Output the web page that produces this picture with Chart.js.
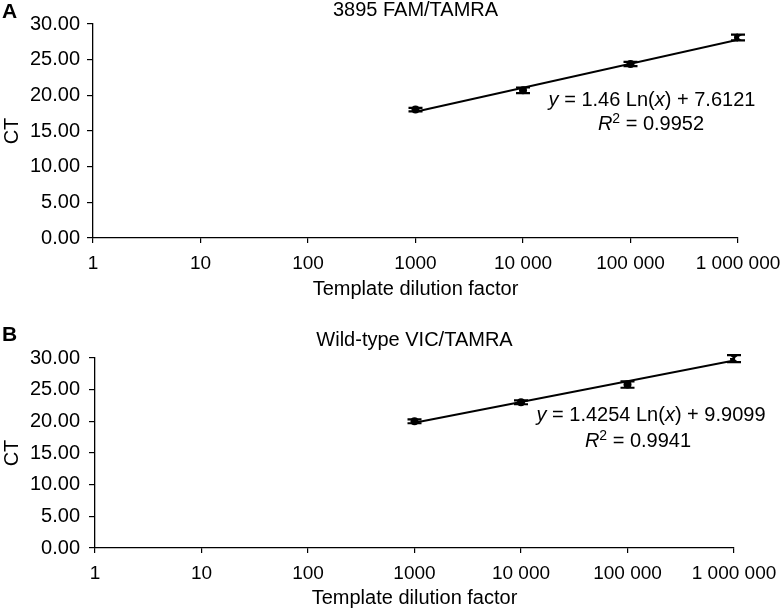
<!DOCTYPE html>
<html><head><meta charset="utf-8">
<script src="https://cdn.jsdelivr.net/npm/chart.js@4.4.1/dist/chart.umd.min.js"></script>
<style>
html,body{margin:0;padding:0;background:#fff;}
#wrap{position:relative;width:782px;height:609px;overflow:hidden;background:#fff;}
canvas{position:absolute;left:0;}
</style></head><body>
<div id="wrap">
<canvas id="cA" width="782" height="305" style="top:0px"></canvas>
<canvas id="cB" width="782" height="304" style="top:305px"></canvas>
</div>
<script>
// ---------- data ----------
const dilution = [1000, 10000, 100000, 1000000];
const ctA = [18.0, 20.7, 24.4, 28.1];
const errA = [0.25, 0.4, 0.3, 0.4];
const ctB = [20.0, 23.0, 25.8, 29.9];
const errB = [0.3, 0.3, 0.5, 0.55];
const trendX = [1000, 1000000];
const trendA = [17.70, 27.78];   // y = 1.46 Ln(x) + 7.6121 at the ends
const trendB = [19.76, 29.60];   // y = 1.4254 Ln(x) + 9.9099 at the ends
const xTickValues = [1, 10, 100, 1000, 10000, 100000, 1000000];
const xTickLabels = ['1', '10', '100', '1000', '10 000', '100 000', '1 000 000'];
const titleA = '3895 FAM/TAMRA';
const titleB = 'Wild-type VIC/TAMRA';
const eqA = ['1.46', '7.6121', '0.9952'];
const eqB = ['1.4254', '9.9099', '0.9941'];
const xTitle = 'Template dilution factor';
const yTitle = 'CT';

const FAMILY = '"Liberation Sans", Arial, Helvetica, sans-serif';
const INK = '#000';

function drawRich(ctx, parts, cx, cy, size) {
  const fontFor = s => (s === 'i' ? 'italic ' : '') + (s === 'sup' ? Math.round(size * 0.68) : size) + 'px ' + FAMILY;
  let total = 0;
  parts.forEach(([t, s]) => { ctx.font = fontFor(s); total += ctx.measureText(t).width; });
  let x = cx - total / 2;
  ctx.textAlign = 'left';
  ctx.textBaseline = 'alphabetic';
  const base = cy + size * 0.36;
  parts.forEach(([t, s]) => {
    ctx.font = fontFor(s);
    ctx.fillText(t, x, s === 'sup' ? base - size * 0.36 : base);
    x += ctx.measureText(t).width;
  });
}

const errorBars = {
  id: 'errorBars',
  afterDatasetsDraw(chart) {
    const {ctx, scales: {x, y}} = chart;
    const ds = chart.data.datasets[1];
    const errs = chart.options.plugins.errorBars.err;
    ctx.save();
    ctx.strokeStyle = INK;
    ctx.lineWidth = 2.2;
    ds.data.forEach((p, i) => {
      const px = x.getPixelForValue(p.x);
      const yT = y.getPixelForValue(p.y + errs[i]);
      const yB = y.getPixelForValue(p.y - errs[i]);
      ctx.beginPath();
      ctx.moveTo(px, yT); ctx.lineTo(px, yB);
      ctx.moveTo(px - 7, yT); ctx.lineTo(px + 7, yT);
      ctx.moveTo(px - 7, yB); ctx.lineTo(px + 7, yB);
      ctx.stroke();
      ctx.beginPath();
      ctx.moveTo(px - 4.5, yT); ctx.lineTo(px + 4.5, yT); ctx.lineTo(px, (yT + yB) / 2); ctx.closePath();
      ctx.moveTo(px - 4.5, yB); ctx.lineTo(px + 4.5, yB); ctx.lineTo(px, (yT + yB) / 2); ctx.closePath();
      ctx.fillStyle = INK;
      ctx.fill();
    });
    ctx.restore();
  }
};

const labels = {
  id: 'labels',
  afterDraw(chart) {
    const o = chart.options.plugins.labels;
    const {ctx, chartArea} = chart;
    ctx.save();
    ctx.fillStyle = INK;
    ctx.font = 'bold 21px ' + FAMILY;
    ctx.textAlign = 'left';
    ctx.textBaseline = 'middle';
    ctx.fillText(o.letter, 2, o.letterY);
    ctx.font = '20px ' + FAMILY;
    ctx.textAlign = 'center';
    ctx.fillText(o.title, (chartArea.left + chartArea.right) / 2, o.titleY);
    drawRich(ctx, [['y', 'i'], [' = ' + o.eq[0] + ' Ln(', ''], ['x', 'i'], [') + ' + o.eq[1], '']], o.eqX, o.eqY, 20);
    drawRich(ctx, [['R', 'i'], ['2', 'sup'], [' = ' + o.eq[2], '']], o.r2X, o.r2Y, 20);
    ctx.restore();
  }
};

function makeChart(id, L, values, errs, trend) {
  const H = document.getElementById(id).height;
  return new Chart(document.getElementById(id), {
    data: {
      datasets: [
        {
          type: 'line',
          data: trendX.map((v, i) => ({x: v, y: trend[i]})),
          borderColor: INK, borderWidth: 2, pointRadius: 0, fill: false, tension: 0
        },
        {
          type: 'scatter',
          data: dilution.map((v, i) => ({x: v, y: values[i]})),
          backgroundColor: INK, borderColor: INK, pointRadius: 4, pointBorderWidth: 0
        }
      ]
    },
    options: {
      responsive: false, animation: false, devicePixelRatio: 1,
      layout: {padding: {left: 0, top: L.top, right: 782 - L.right, bottom: 0}},
      plugins: {
        legend: {display: false}, tooltip: {enabled: false}, title: {display: false},
        errorBars: {err: errs},
        labels: L.text
      },
      scales: {
        x: {
          type: 'logarithmic', min: 1, max: 1000000,
          afterBuildTicks: s => { s.ticks = xTickValues.map(v => ({value: v})); },
          afterFit: s => { s.height = H - L.bottom; s.paddingLeft = 0; s.paddingRight = 0; },
          grid: {drawOnChartArea: false, drawTicks: true, tickLength: 5, color: INK, lineWidth: 1.2},
          border: {display: true, color: INK, width: 1.3},
          ticks: {
            color: INK, font: {family: FAMILY, size: 19, lineHeight: 1.2}, padding: 9.6,
            maxRotation: 0, autoSkip: false,
            callback: v => { const k = xTickValues.indexOf(v); return k >= 0 ? xTickLabels[k] : ''; }
          },
          title: {display: true, text: xTitle, color: INK, font: {family: FAMILY, size: 20, lineHeight: 1.0},
                  padding: {top: 0, bottom: H - L.xTitleY - 10}}
        },
        y: {
          type: 'linear', min: 0, max: 30,
          afterFit: s => { s.width = L.left; s.paddingTop = 0; s.paddingBottom = 0; },
          grid: {drawOnChartArea: false, drawTicks: true, tickLength: 6, color: INK, lineWidth: 1.2},
          border: {display: true, color: INK, width: 1.3},
          ticks: {
            stepSize: 5, color: INK, font: {family: FAMILY, size: 20, lineHeight: 1.2}, padding: L.left - 86,
            callback: v => Number(v).toFixed(2)
          },
          title: {display: true, text: yTitle, color: INK, font: {family: FAMILY, size: 20, lineHeight: 1.0},
                  padding: {top: 2, bottom: 0}}
        }
      }
    },
    plugins: [errorBars, labels]
  });
}

makeChart('cA', {top: 24, bottom: 238, left: 93, right: 738, xTitleY: 289,
  text: {letter: 'A', letterY: 12, title: titleA, titleY: 10, eq: eqA, eqX: 652, eqY: 99, r2X: 651, r2Y: 123}},
  ctA, errA, trendA);
makeChart('cB', {top: 53, bottom: 243, left: 95, right: 734, xTitleY: 293,
  text: {letter: 'B', letterY: 30, title: titleB, titleY: 35, eq: eqB, eqX: 651, eqY: 109, r2X: 638, r2Y: 135}},
  ctB, errB, trendB);
</script>
</body></html>
